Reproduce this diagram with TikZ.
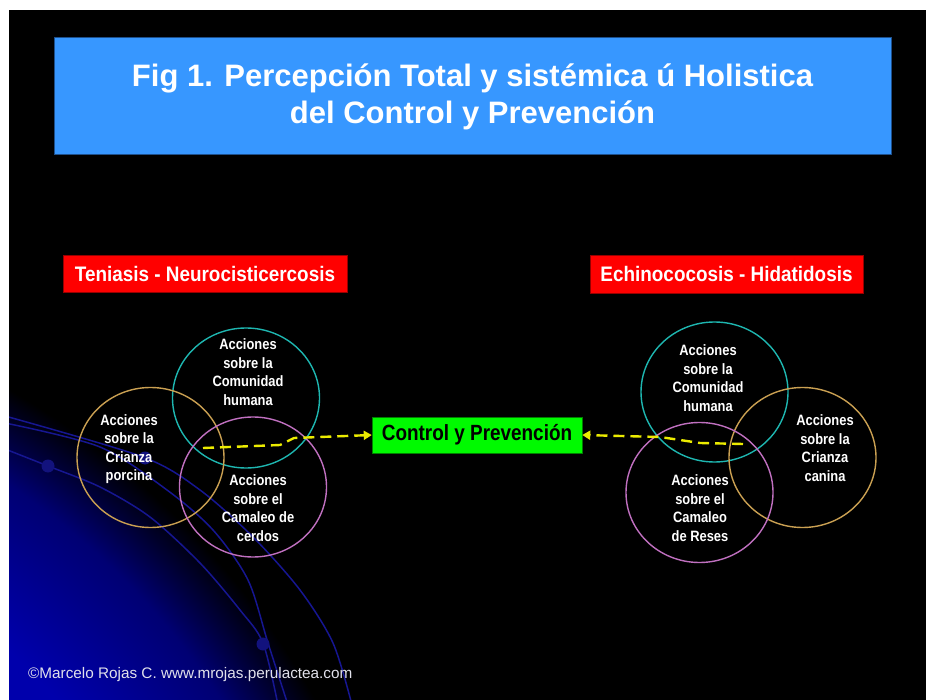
\documentclass[tikz,border=0pt]{standalone}
\usepackage{fontspec}
\setmainfont{Liberation Sans}
\newfontfamily\nb[FakeStretch=0.86]{Liberation Sans}
\newfontfamily\rb[FakeStretch=0.9]{Liberation Sans}
\usetikzlibrary{shapes.geometric,arrows.meta}
\definecolor{titleblue}{RGB}{55,151,255}
\definecolor{titleedge}{RGB}{30,80,140}
\definecolor{labred}{RGB}{255,0,0}
\definecolor{labedge}{RGB}{150,0,0}
\definecolor{cpgreen}{RGB}{0,250,0}
\definecolor{ccyan}{RGB}{30,182,176}
\definecolor{cgold}{RGB}{202,160,82}
\definecolor{cviolet}{RGB}{192,112,192}
\definecolor{dashyel}{RGB}{235,235,0}
\definecolor{cornerblue}{RGB}{0,0,172}
\definecolor{midblue}{RGB}{0,0,115}
\definecolor{arcblue}{RGB}{22,22,145}
\definecolor{dotcol}{RGB}{18,18,125}
\definecolor{footgray}{RGB}{225,225,235}
\pgfdeclareradialshading{bluecorner}{\pgfpoint{0bp}{0bp}}{color(0bp)=(cornerblue); color(18.5bp)=(cornerblue); color(22.5bp)=(midblue); color(25bp)=(black); color(50bp)=(black)}
\tikzset{
  ring/.style={draw, ellipse, line width=1.4pt, minimum width=147pt, minimum height=140pt, inner sep=0pt},
  ringtext/.style={text=white, font=\nb\bfseries\fontsize{15}{18.5}\selectfont, align=center, inner sep=0pt},
  labbox/.style={fill=labred, draw=labedge, line width=0.6pt, text=white, font=\rb\bfseries\fontsize{21}{25}\selectfont, inner sep=0pt},
  yarrow/.style={draw=dashyel, line width=2.4pt, dash pattern=on 11pt off 6pt, -{Triangle[length=8pt,width=9pt,fill=dashyel]}},
  arcline/.style={draw=arcblue, line width=1.5pt},
  dotblue/.style={circle, fill=dotcol, inner sep=0pt, minimum size=13pt},
}
\begin{document}
\begin{tikzpicture}[x=1pt,y=-1pt]
\useasboundingbox (0,0) rectangle (926,700);
\fill[white] (0,0) rectangle (926,700);
\fill[black] (9,10) rectangle (926,700);
\begin{scope}
  \clip (9,10) rectangle (926,700);
  \fill[shading=bluecorner] (-400,1100) circle (820pt);
  \draw[arcline] plot[smooth] coordinates {(5,416) (143,457) (200,490) (253,537) (300,590) (333,643) (352,705)};
  \draw[arcline] plot[smooth] coordinates {(5,423) (100,447) (167,490) (213,530) (248,580) (268,643) (288,705)};
  \draw[arcline] plot[smooth] coordinates {(5,449) (48,466) (100,487) (150,517) (200,563) (240,610) (263,643) (278,705)};
  \node[dotblue] (d1) at (48,466) {};
  \node[dotblue] (d2) at (145,458) {};
  \node[dotblue] (d3) at (263,644) {};
\end{scope}
% title
\node[fill=titleblue, draw=titleedge, line width=0.8pt, minimum width=837pt, minimum height=117pt, inner sep=0pt] (titlebox) at (472.5,95.5) {};
\node[anchor=base, text=white, font=\bfseries\fontsize{31}{37}\selectfont, inner sep=0pt] (t1) at (472.5,87) {Fig 1. Percepción Total y sistémica ú Holistica};
\node[anchor=base, text=white, font=\bfseries\fontsize{31}{37}\selectfont, inner sep=0pt] (t2) at (472.5,124) {del Control y Prevención};
% red labels
\node[labbox, minimum width=284pt, minimum height=37pt] (lab1) at (205,273.5) {Teniasis - Neurocisticercosis};
\node[labbox, minimum width=273pt, minimum height=38pt] (lab2) at (726.5,274) {Echinococosis - Hidatidosis};
% left circles
\node[ring, draw=ccyan] (lc1) at (246,398) {};
\node[ring, draw=cgold] (lc2) at (150.5,457.5) {};
\node[ring, draw=cviolet] (lc3) at (253,487) {};
\node[ringtext] (lt1) at (248,372) {Acciones\\sobre la\\Comunidad\\humana};
\node[ringtext] (lt2) at (129,449) {Acciones\\sobre la\\Crianza\\porcina};
\node[ringtext] (lt3) at (258,508) {Acciones\\sobre el\\Camaleo de\\cerdos};
% right circles
\node[ring, draw=ccyan] (rc1) at (714.5,392) {};
\node[ring, draw=cgold] (rc2) at (802.5,457.5) {};
\node[ring, draw=cviolet] (rc3) at (699.5,492.5) {};
\node[ringtext] (rt1) at (708,378) {Acciones\\sobre la\\Comunidad\\humana};
\node[ringtext] (rt2) at (825,448) {Acciones\\sobre la\\Crianza\\canina};
\node[ringtext] (rt3) at (700,508) {Acciones\\sobre el\\Camaleo\\de Reses};
% center box
\node[fill=cpgreen, draw=green!50!black, line width=0.5pt, minimum width=210pt, minimum height=36pt, inner sep=0pt, font=\nb\bfseries\fontsize{22}{26}\selectfont] (cp) at (477,435) {Control y Prevención};
% arrows
\coordinate (la) at (203,448);
\coordinate (ra) at (743,444);
\draw[yarrow] (la) -- (280,445) -- (294,438) -- (cp.west);
\draw[yarrow] (ra) -- (700,443) -- (660,437) -- (cp.east);
% footer
\node[anchor=base west, text=footgray, font=\fontsize{15.3}{18}\selectfont, inner sep=0pt] (foot) at (28,678) {©Marcelo Rojas C. www.mrojas.perulactea.com};
\end{tikzpicture}
\end{document}
